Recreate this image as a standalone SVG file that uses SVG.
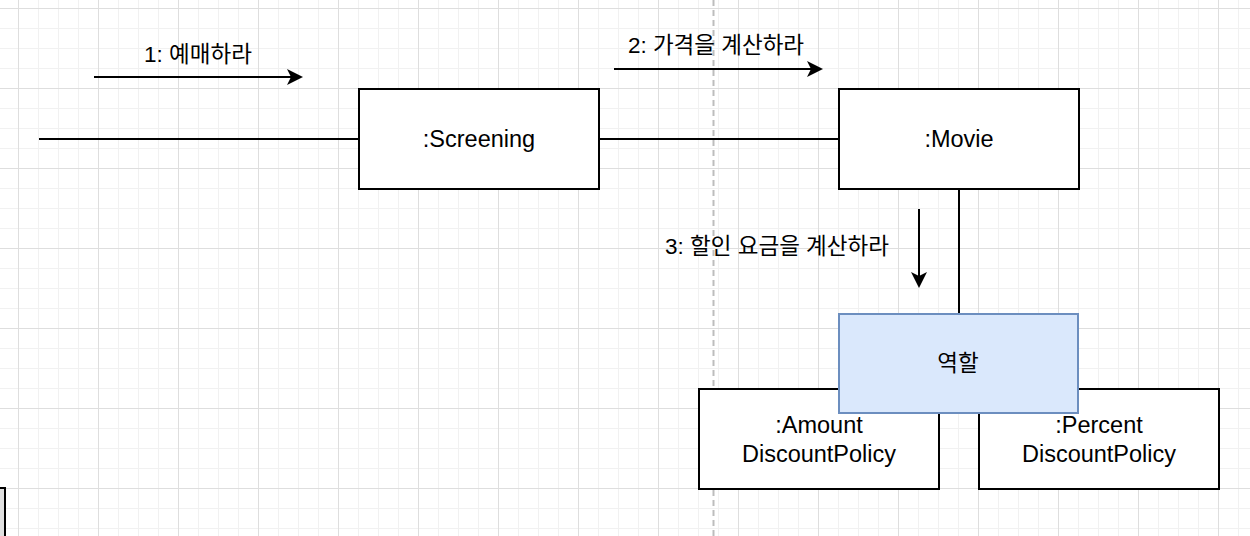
<svg xmlns="http://www.w3.org/2000/svg" width="1250" height="536" viewBox="0 0 1250 536">
<style>
text{font-family:"Liberation Sans","Noto Sans CJK KR",sans-serif;fill:#000;text-anchor:middle}
.box{fill:#fff;stroke:#000;stroke-width:2}
.role{fill:#dae8fc;stroke:#6c8ebf;stroke-width:2}
.t{font-size:23.5px}
.lbl{font-size:22.5px}
.ln{stroke:#000;stroke-width:2;fill:none}
.arr{stroke:#000;stroke-width:2;fill:none;marker-end:url(#head)}
</style>
<defs>
<pattern id="grid" patternUnits="userSpaceOnUse" x="18" y="8" width="80" height="80">
<path d="M20.5 0V80M40.5 0V80M60.5 0V80M0 20.5H80M0 40.5H80M0 60.5H80" stroke="#f1f1f1" stroke-width="1" fill="none"/>
<path d="M0.5 0V80M0 0.5H80" stroke="#dedede" stroke-width="1" fill="none"/>
</pattern>
<marker id="head" markerUnits="userSpaceOnUse" viewBox="-2 -10 20 20" markerWidth="20" markerHeight="20" refX="4" refY="0" orient="auto">
<path d="M0,-8 L16,0 L0,8 L4,0 Z" fill="#000"/>
</marker>
</defs>
<rect width="1250" height="536" fill="#fff"/>
<rect width="1250" height="536" fill="url(#grid)"/>
<line x1="713.5" y1="0" x2="713.5" y2="536" stroke="#bdbdbd" stroke-width="2" stroke-dasharray="6 4"/>
<rect x="-200" y="488" width="205" height="100" fill="#e0e0e0" stroke="#000" stroke-width="2"/>
<g id="connectors">
<line class="ln" x1="39" y1="139" x2="359" y2="139"/>
<line class="ln" x1="599" y1="139" x2="839" y2="139"/>
<line class="ln" x1="959" y1="189" x2="959" y2="314"/>
<line class="arr" x1="94" y1="77" x2="291" y2="77"/>
<text class="lbl" x="198" y="62">1: 예매하라</text>
<line class="arr" x1="614" y1="69" x2="811" y2="69"/>
<text class="lbl" x="716" y="53">2: 가격을 계산하라</text>
<line class="arr" x1="919" y1="209" x2="919" y2="276"/>
<text class="lbl" x="777" y="254">3: 할인 요금을 계산하라</text>
</g>
<g id="screening">
<rect class="box" x="359" y="89" width="240" height="100"/>
<text class="t" x="479" y="147">:Screening</text>
</g>
<g id="movie">
<rect class="box" x="839" y="89" width="240" height="100"/>
<text class="t" x="959" y="147">:Movie</text>
</g>
<g id="amount">
<rect class="box" x="699" y="389" width="240" height="100"/>
<text class="t" x="819" y="433">:Amount</text>
<text class="t" x="819" y="462">DiscountPolicy</text>
</g>
<g id="percent">
<rect class="box" x="979" y="389" width="240" height="100"/>
<text class="t" x="1099" y="433">:Percent</text>
<text class="t" x="1099" y="462">DiscountPolicy</text>
</g>
<g id="role">
<rect class="role" x="839" y="314" width="239" height="99"/>
<text class="lbl" x="958" y="371">역할</text>
</g>
</svg>
